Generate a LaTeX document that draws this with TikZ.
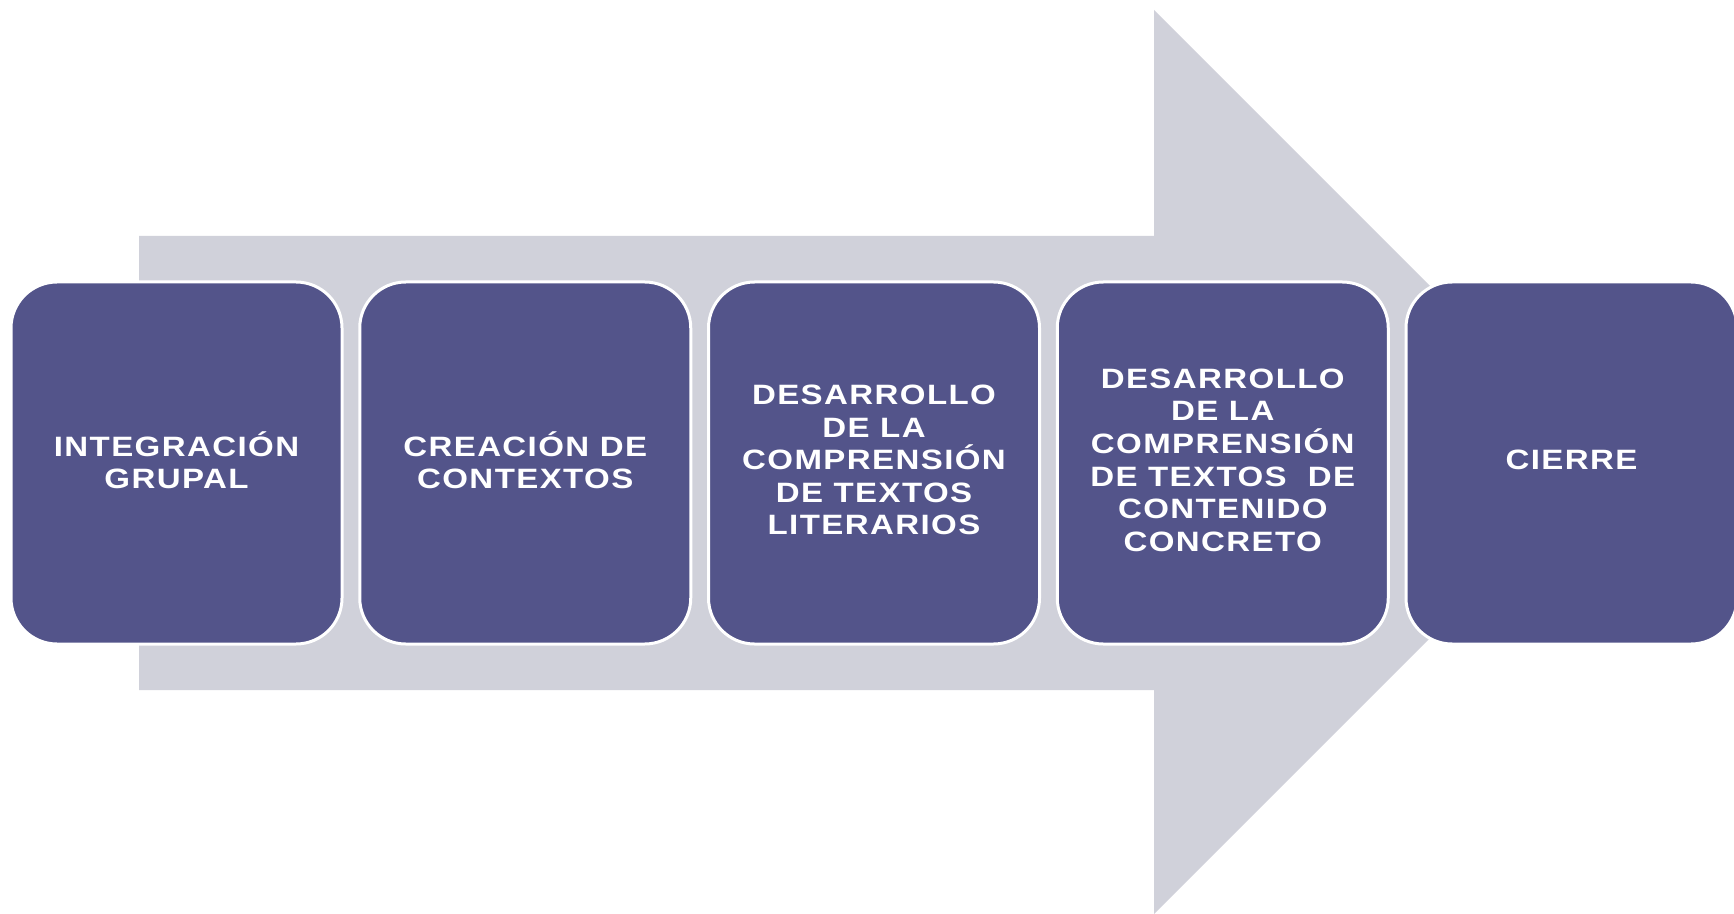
\documentclass[tikz,border=0pt]{standalone}
\usepackage{fontspec}
\usepackage{tikz}
\newfontfamily\stagefont{Liberation Sans}[FakeStretch=1.18,LetterSpace=5]
\definecolor{arrowgray}{RGB}{208,209,218}
\definecolor{stagepurple}{RGB}{83,84,138}
\tikzset{
  stage/.style={draw=white, line width=1.5pt, fill=stagepurple, rounded corners=23pt,
    minimum width=165.5pt, minimum height=181pt, inner sep=0pt, text=white, align=center,
    text depth=3pt, font=\stagefont\bfseries\fontsize{14}{16.3}\selectfont}
}

\begin{document}
\begin{tikzpicture}[x=0.5pt,y=-0.5pt]
\useasboundingbox (0,0) rectangle (1734,914);
\fill[arrowgray] (139,236)--(1154,236)--(1154,10)--(1606,462)--(1154,914)--(1154,690)--(139,690)--cycle;
\node[stage] (integracion) at (176.5,463) {INTEGRACIÓN\\GRUPAL};
\node[stage] (creacion) at (525.25,463) {CREACIÓN DE\\CONTEXTOS};
\node[stage] (literarios) at (874,463) {DESARROLLO\\DE LA\\COMPRENSIÓN\\DE TEXTOS\\LITERARIOS};
\node[stage] (concreto) at (1222.75,463) {DESARROLLO\\DE LA\\COMPRENSIÓN\\DE TEXTOS~ DE\\CONTENIDO\\CONCRETO};
\node[stage] (cierre) at (1571.5,463) {CIERRE};
\end{tikzpicture}
\end{document}
